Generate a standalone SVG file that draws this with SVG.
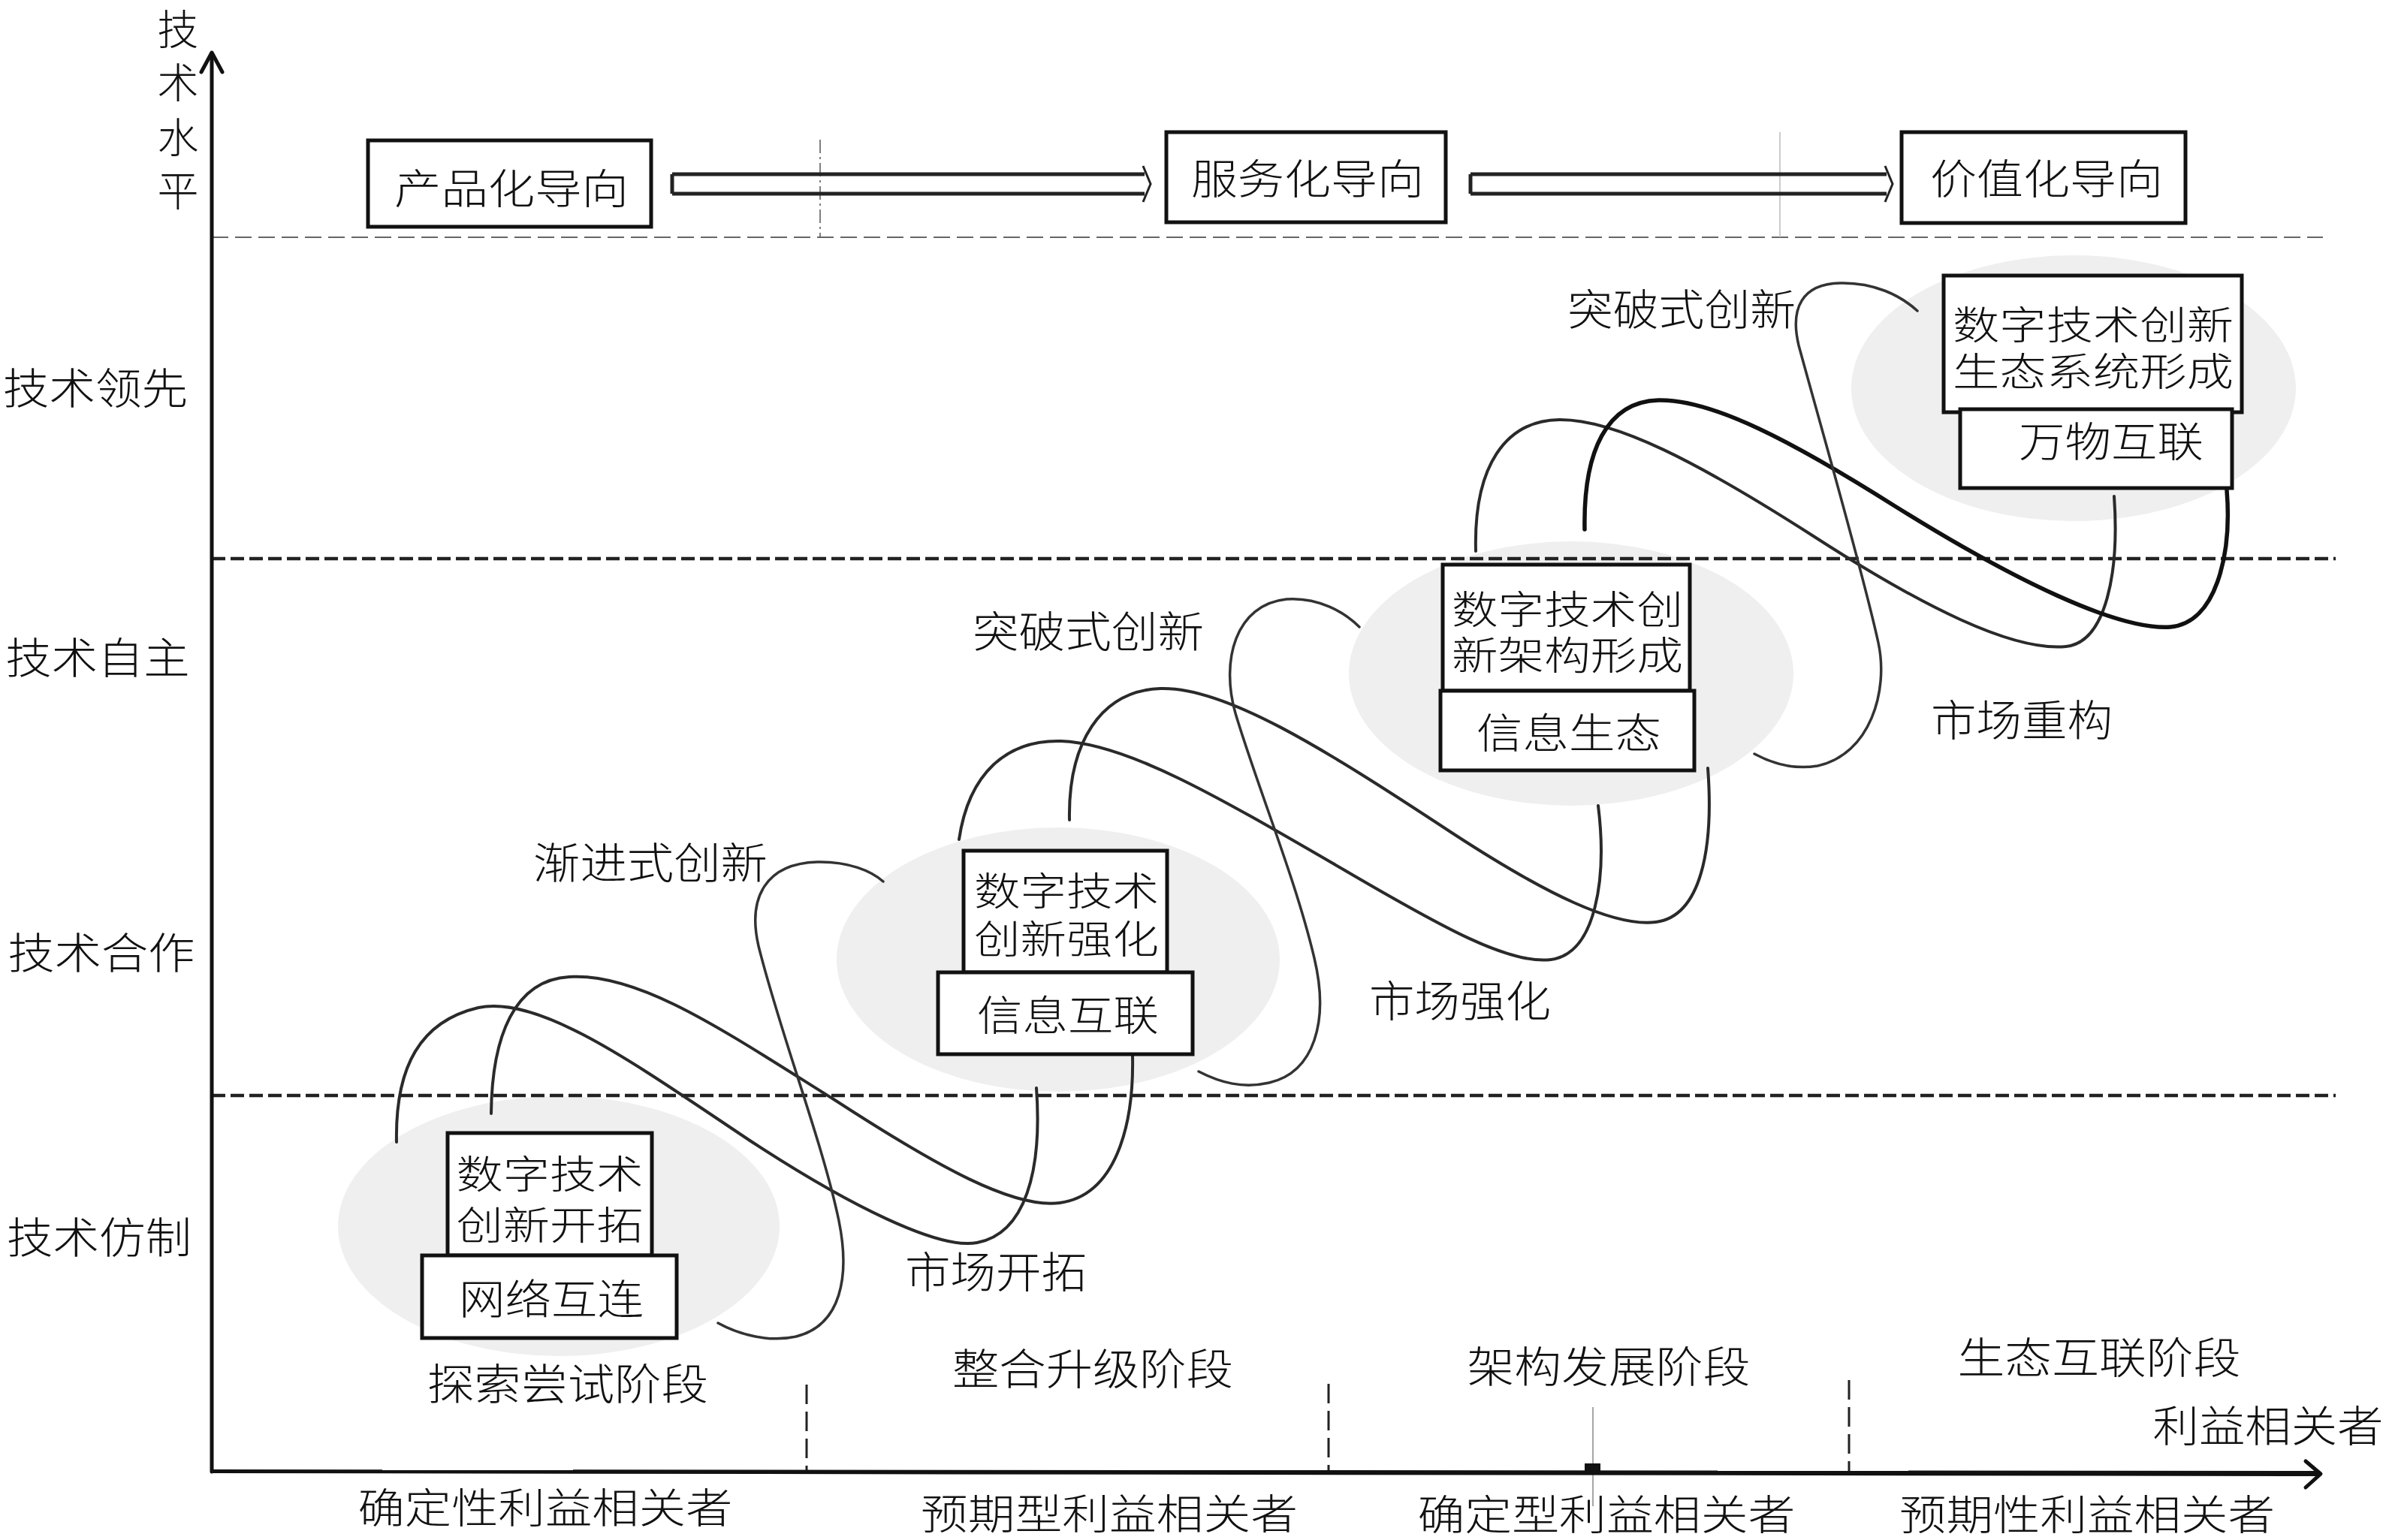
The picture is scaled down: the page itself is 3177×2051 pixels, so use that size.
<svg xmlns="http://www.w3.org/2000/svg" width="3177" height="2051" viewBox="0 0 3177 2051">
<style>
text{font-family:"Noto Sans CJK SC","Noto Sans CJK TC",sans-serif;font-weight:300;fill:#111;text-anchor:middle}
.t58{font-size:57px}
.t56{font-size:55px}
.t52{font-size:52px}
.box{fill:#fff;stroke:#111;stroke-width:5}
.ell{fill:#efefef;stroke:none}
.cv{fill:none;stroke:#2a2a2a;stroke-width:4;stroke-linecap:round}
.cvt{fill:none;stroke:#333;stroke-width:3.5;stroke-linecap:round}
.cvb{fill:none;stroke:#111;stroke-width:5.5;stroke-linecap:round}
.bdash{fill:none;stroke:#222;stroke-width:4.5;stroke-dasharray:18 7}
.gdash{fill:none;stroke:#666;stroke-width:2;stroke-dasharray:22 9}
.vdash{fill:none;stroke:#222;stroke-width:3;stroke-dasharray:26 10}
.axis{fill:none;stroke:#111;stroke-width:5;stroke-linecap:round;stroke-linejoin:round}
.harrow{fill:#fff;stroke:#222;stroke-width:5}
</style>
<rect x="0" y="0" width="3177" height="2051" fill="#fff"/>

<g id="backdrops">
<ellipse class="ell" cx="744" cy="1633" rx="294" ry="173"/>
<ellipse class="ell" cx="1409" cy="1278" rx="295" ry="176"/>
<ellipse class="ell" cx="2092" cy="897" rx="296" ry="176"/>
<ellipse class="ell" cx="2761" cy="517" rx="296" ry="177"/>
</g>

<g id="grid">
<line class="gdash" x1="282" y1="316" x2="3093" y2="316"/>
<line x1="1092" y1="186" x2="1092" y2="316" stroke="#555" stroke-width="1.5" stroke-dasharray="18 5 3 5"/>
<line x1="2370" y1="176" x2="2370" y2="316" stroke="#bbb" stroke-width="1.5"/>
<line class="bdash" x1="282" y1="744" x2="3110" y2="744"/>
<line class="bdash" x1="282" y1="1459" x2="3110" y2="1459"/>
<line class="vdash" x1="1074" y1="1844" x2="1074" y2="1959"/>
<line class="vdash" x1="1769" y1="1843" x2="1769" y2="1959"/>
<line class="vdash" x1="2462" y1="1838" x2="2462" y2="1959"/>
<line x1="2121" y1="1874" x2="2121" y2="2006" stroke="#888" stroke-width="1.5"/>
</g>

<g id="axes">
<line class="axis" x1="282" y1="1960" x2="282" y2="72"/>
<polyline class="axis" points="268,96 282,70 296,96"/>
<path d="M282,1957 L3086,1959 L3086,1966 L282,1962 Z" fill="#111"/>
<polyline class="axis" points="3070,1946 3090,1963 3070,1981"/>
<rect x="2110" y="1949" width="21" height="11" fill="#111"/>
</g>

<g id="connectors">
<path class="harrow" d="M895,232 H1524 M895,258 H1524 M895,232 V258"/>
<polyline points="1522,221 1532,245 1522,269" fill="none" stroke="#222" stroke-width="3"/>
<path class="harrow" d="M1958,232 H2512 M1958,258 H2512 M1958,232 V258"/>
<polyline points="2510,221 2520,245 2510,269" fill="none" stroke="#222" stroke-width="3"/>

<path class="cv" d="M528,1521 C526,1420 560,1360 637,1342 C720,1325 850,1420 1000,1520 C1130,1605 1250,1665 1301,1655 C1365,1643 1388,1560 1380,1449"/>
<path class="cv" d="M654,1483 C655,1380 685,1305 758,1301 C850,1295 960,1370 1110,1464 C1250,1555 1350,1610 1411,1602 C1485,1592 1510,1500 1508,1406"/>
<path class="cvt" d="M956,1762 C985,1778 1025,1788 1060,1780 C1120,1765 1132,1700 1117,1626 C1095,1520 1040,1380 1010,1260 C995,1195 1020,1150 1088,1148 C1130,1147 1160,1160 1176,1174"/>

<path class="cv" d="M1277,1118 C1290,1030 1340,985 1413,987 C1500,990 1620,1060 1787,1157 C1920,1235 2010,1285 2065,1278 C2125,1270 2140,1170 2128,1073"/>
<path class="cv" d="M1424,1092 C1422,990 1465,920 1545,917 C1630,914 1760,995 1933,1109 C2060,1192 2150,1235 2205,1228 C2265,1220 2282,1130 2274,1023"/>
<path class="cvt" d="M1596,1427 C1625,1442 1655,1450 1690,1442 C1750,1428 1770,1360 1750,1276 C1725,1170 1675,1050 1645,950 C1625,880 1645,805 1713,798 C1755,795 1790,815 1810,835"/>

<path class="cv" d="M1965,734 C1962,620 2005,560 2076,559 C2150,558 2260,615 2413,713 C2560,808 2680,868 2751,861 C2805,855 2822,760 2815,661"/>
<path class="cvb" d="M2110,705 C2108,600 2140,535 2208,533 C2280,531 2390,590 2523,674 C2680,772 2820,840 2890,835 C2950,830 2972,740 2965,653"/>
<path class="cvt" d="M2336,1004 C2362,1018 2390,1025 2420,1020 C2490,1005 2515,920 2501,856 C2480,760 2425,570 2395,460 C2383,410 2400,378 2450,377 C2495,376 2530,393 2553,414"/>
</g>

<g id="node-product">
<rect class="box" x="490" y="187" width="377" height="115"/>
<text class="t56" x="681" y="271" textLength="312" lengthAdjust="spacingAndGlyphs">产品化导向</text>
</g>
<g id="node-service">
<rect class="box" x="1553" y="176" width="372" height="120"/>
<text class="t56" x="1741" y="258" textLength="310" lengthAdjust="spacingAndGlyphs">服务化导向</text>
</g>
<g id="node-value">
<rect class="box" x="2532" y="176" width="378" height="121"/>
<text class="t56" x="2725" y="258" textLength="310" lengthAdjust="spacingAndGlyphs">价值化导向</text>
</g>

<g id="node-stage1">
<rect class="box" x="596" y="1509" width="272" height="163"/>
<text class="t52"><tspan x="732" y="1583" textLength="249" lengthAdjust="spacingAndGlyphs">数字技术</tspan><tspan x="732" y="1651" textLength="249" lengthAdjust="spacingAndGlyphs">创新开拓</tspan></text>
<rect class="box" x="562" y="1672" width="339" height="110"/>
<text class="t56" x="734" y="1750" textLength="246" lengthAdjust="spacingAndGlyphs">网络互连</text>
</g>

<g id="node-stage2">
<rect class="box" x="1283" y="1133" width="271" height="162"/>
<text class="t52"><tspan x="1420" y="1206" textLength="246" lengthAdjust="spacingAndGlyphs">数字技术</tspan><tspan x="1420" y="1270" textLength="246" lengthAdjust="spacingAndGlyphs">创新强化</tspan></text>
<rect class="box" x="1249" y="1295" width="339" height="109"/>
<text class="t56" x="1422" y="1372" textLength="242" lengthAdjust="spacingAndGlyphs">信息互联</text>
</g>

<g id="node-stage3">
<rect class="box" x="1921" y="752" width="329" height="168"/>
<text class="t52"><tspan x="2087" y="831" textLength="308" lengthAdjust="spacingAndGlyphs">数字技术创</tspan><tspan x="2087" y="892" textLength="308" lengthAdjust="spacingAndGlyphs">新架构形成</tspan></text>
<rect class="box" x="1918" y="920" width="338" height="106"/>
<text class="t56" x="2089" y="996" textLength="246" lengthAdjust="spacingAndGlyphs">信息生态</text>
</g>

<g id="node-stage4">
<rect class="box" x="2588" y="367" width="397" height="182"/>
<text class="t52"><tspan x="2787" y="452" textLength="374" lengthAdjust="spacingAndGlyphs">数字技术创新</tspan><tspan x="2787" y="514" textLength="374" lengthAdjust="spacingAndGlyphs">生态系统形成</tspan></text>
<rect class="box" x="2610" y="545" width="362" height="105"/>
<text class="t56" x="2811" y="608" textLength="246" lengthAdjust="spacingAndGlyphs">万物互联</text>
</g>

<g id="labels">
<text class="t56"><tspan x="237" y="59">技</tspan><tspan x="237" y="130">术</tspan><tspan x="237" y="203">水</tspan><tspan x="237" y="274">平</tspan></text>

<text class="t58" x="127" y="538" textLength="246" lengthAdjust="spacingAndGlyphs">技术领先</text>
<text class="t58" x="130" y="897" textLength="245" lengthAdjust="spacingAndGlyphs">技术自主</text>
<text class="t58" x="135" y="1290" textLength="249" lengthAdjust="spacingAndGlyphs">技术合作</text>
<text class="t58" x="132" y="1669" textLength="246" lengthAdjust="spacingAndGlyphs">技术仿制</text>

<text class="t58" x="866" y="1170" textLength="312" lengthAdjust="spacingAndGlyphs">渐进式创新</text>
<text class="t58" x="1326" y="1715" textLength="242" lengthAdjust="spacingAndGlyphs">市场开拓</text>
<text class="t58" x="1449" y="862" textLength="308" lengthAdjust="spacingAndGlyphs">突破式创新</text>
<text class="t58" x="1944" y="1354" textLength="242" lengthAdjust="spacingAndGlyphs">市场强化</text>
<text class="t58" x="2239" y="433" textLength="304" lengthAdjust="spacingAndGlyphs">突破式创新</text>
<text class="t58" x="2692" y="980" textLength="242" lengthAdjust="spacingAndGlyphs">市场重构</text>

<text class="t58" x="756" y="1864" textLength="374" lengthAdjust="spacingAndGlyphs">探索尝试阶段</text>
<text class="t58" x="1455" y="1844" textLength="374" lengthAdjust="spacingAndGlyphs">整合升级阶段</text>
<text class="t58" x="2142" y="1841" textLength="377" lengthAdjust="spacingAndGlyphs">架构发展阶段</text>
<text class="t58" x="2795" y="1829" textLength="377" lengthAdjust="spacingAndGlyphs">生态互联阶段</text>
<text class="t58" x="3020" y="1920" textLength="307" lengthAdjust="spacingAndGlyphs">利益相关者</text>

<text class="t56" x="726" y="2028" textLength="499" lengthAdjust="spacingAndGlyphs">确定性利益相关者</text>
<text class="t56" x="1477" y="2036" textLength="502" lengthAdjust="spacingAndGlyphs">预期型利益相关者</text>
<text class="t56" x="2139" y="2037" textLength="503" lengthAdjust="spacingAndGlyphs">确定型利益相关者</text>
<text class="t56" x="2779" y="2037" textLength="500" lengthAdjust="spacingAndGlyphs">预期性利益相关者</text>
</g>
</svg>
